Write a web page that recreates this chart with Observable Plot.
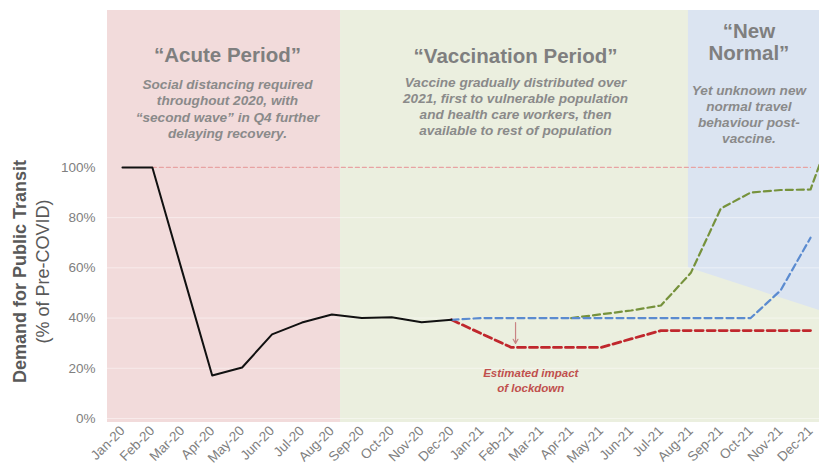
<!DOCTYPE html>
<html><head><meta charset="utf-8">
<script src="https://cdn.jsdelivr.net/npm/d3@7"></script>
<script src="https://cdn.jsdelivr.net/npm/@observablehq/plot@0.6"></script>
<style>body{margin:0;background:#fff;overflow:hidden}</style>
</head><body><div id="chart"></div>
<script>
// x tick labels (month index 0..23)
const months = ["Jan-20","Feb-20","Mar-20","Apr-20","May-20","Jun-20","Jul-20","Aug-20","Sep-20","Oct-20","Nov-20","Dec-20",
                "Jan-21","Feb-21","Mar-21","Apr-21","May-21","Jun-21","Jul-21","Aug-21","Sep-21","Oct-21","Nov-21","Dec-21"];
const yTicks = [0, 20, 40, 60, 80, 100];

// Observed demand, Jan-20 .. Dec-20 (% of pre-COVID)
const actual = [100, 100, 58.5, 17.1, 20.3, 33.5, 38.2, 41.4, 40.0, 40.3, 38.3, 39.3];
// Scenario series
const baselineMonths = ["Dec-20","Jan-21","Feb-21","Mar-21","Apr-21","May-21","Jun-21","Jul-21","Aug-21","Sep-21","Oct-21","Nov-21","Dec-21"];
const baselineValues = [39.3, 40, 40, 40, 40, 40, 40, 40, 40, 40, 40, 51, 72];
const lockdownMonths = ["Dec-20","Jan-21","Feb-21","Mar-21","Apr-21","May-21","Jun-21","Jul-21","Aug-21","Sep-21","Oct-21","Nov-21","Dec-21"];
const lockdownValues = [39.3, 33.8, 28.3, 28.3, 28.3, 28.3, 31.7, 35, 35, 35, 35, 35, 35];
const vaccineMonths = ["Apr-21","May-21","Jun-21","Jul-21","Aug-21","Sep-21","Oct-21","Nov-21","Dec-21","Jan-22"];
const vaccineValues = [40, 41.5, 43, 45, 58, 83.6, 90, 91, 91.2, 124];
// Pre-COVID reference
const refMonths = ["Feb-20","Dec-21"];
const refValues = [100, 100];

// Period shading (month-index bounds)
const periodNames = ["Acute Period","Vaccination Period","New Normal"];
const periodStart = [-0.5, 7.29, 18.92];
const periodEnd = [7.29, 23.3, 23.3];
const periodColors = ["#f2dbdb", "#ebefdf", "#dbe4f1"];
const newNormalLower = [60, 43];

const idx = m => { const i = months.indexOf(m); return i >= 0 ? i : months.length + ["Jan-22"].indexOf(m); };
const series = (ms, vs) => ms.map((m, k) => ({i: idx(m), v: vs[k]}));

const actualData = actual.map((v, i) => ({i, v}));
const baseData = series(baselineMonths, baselineValues);
const lockData = series(lockdownMonths, lockdownValues);
const vaccData = series(vaccineMonths, vaccineValues);
const refData = series(refMonths, refValues);

const yMin = -1.6, yMax = 162.5;
const rects = periodNames.slice(0, 2).map((n, k) => ({x1: periodStart[k], x2: periodEnd[k], c: periodColors[k]}));
const blueArea = [{x: periodStart[2], lo: newNormalLower[0]}, {x: periodEnd[2], lo: newNormalLower[1]}];

const grey = "#7f7f7f";
const subFont = {fontSize: 13.6, fontStyle: "italic", fontWeight: "bold", fill: "#8a8a8a", lineHeight: 1.2, lineAnchor: "middle", textAnchor: "middle"};
const titleFont = {fontSize: 20.5, fontWeight: "bold", fill: grey, lineAnchor: "middle", textAnchor: "middle"};

const chart = Plot.plot({
  width: 819, height: 470,
  marginLeft: 107, marginRight: 0, marginTop: 10, marginBottom: 48,
  style: {fontFamily: "'Liberation Sans', Arial, sans-serif", background: "#fff", overflow: "visible"},
  x: {type: "linear", domain: [-0.5, 23.3]},
  y: {domain: [yMin, yMax]},
  marks: [
    Plot.rect(rects, {x1: "x1", x2: "x2", y1: yMin, y2: yMax, fill: "c"}),
    Plot.areaY(blueArea, {x: "x", y1: "lo", y2: yMax, fill: periodColors[2], curve: "linear"}),
    Plot.ruleY(yTicks.slice(0, 5), {stroke: "#ffffff", strokeOpacity: 0.45, strokeWidth: 1}),
    Plot.line(refData, {x: "i", y: "v", stroke: "#e8a3a3", strokeWidth: 1.2, strokeDasharray: "4,3"}),
    Plot.line(lockData, {x: "i", y: "v", stroke: "#c0272d", strokeWidth: 2.8, strokeDasharray: "8,4"}),
    Plot.line(vaccData, {x: "i", y: "v", stroke: "#76923c", strokeWidth: 2.2, strokeDasharray: "7,4", clip: true}),
    Plot.line(baseData, {x: "i", y: "v", stroke: "#5b8bd0", strokeWidth: 2.2, strokeDasharray: "7,4"}),
    Plot.line(actualData, {x: "i", y: "v", stroke: "#111", strokeWidth: 2}),
    Plot.arrow([0], {x1: () => 13.14, y1: () => 38.2, x2: () => 13.14, y2: () => 29.9, stroke: "#c98484", strokeWidth: 1.2, headLength: 6}),
    Plot.axisY({ticks: yTicks, tickFormat: d => d + "%", tickSize: 0, tickPadding: 12, fontSize: 13.5, fill: "#808080", label: null}),
    Plot.axisX({ticks: d3.range(24), tickFormat: i => months[i], tickRotate: -45, tickSize: 0, tickPadding: 6, fontSize: 13.5, fill: "#808080", label: null}),
    // period titles
    Plot.text(["“Acute Period”"], {x: () => 3.51, y: () => 144.6, text: d => d, ...titleFont}),
    Plot.text(["Social distancing required\nthroughout 2020, with\n“second wave” in Q4 further\ndelaying recovery."], {x: () => 3.51, y: () => 123.5, text: d => d, ...subFont}),
    Plot.text(["“Vaccination Period”"], {x: () => 13.14, y: () => 144.2, text: d => d, ...titleFont}),
    Plot.text(["Vaccine gradually distributed over\n2021, first to vulnerable population\nand health care workers, then\navailable to rest of population"], {x: () => 13.14, y: () => 124.5, text: d => d, ...subFont, lineHeight: 1.16}),
    Plot.text(["“New\nNormal”"], {x: () => 20.94, y: () => 149.8, text: d => d, ...titleFont, lineHeight: 1.07}),
    Plot.text(["Yet unknown new\nnormal travel\nbehaviour post-\nvaccine."], {x: () => 20.94, y: () => 121.3, text: d => d, ...subFont, lineHeight: 1.16}),
    Plot.text(["Estimated impact\nof lockdown"], {x: () => 13.65, y: () => 15.3, text: d => d, fontSize: 11.5, fontStyle: "italic", fontWeight: "bold", fill: "#c0504d", lineHeight: 1.3, lineAnchor: "middle"}),
    // y-axis title
    Plot.text(["Demand for Public Transit"], {frameAnchor: "left", dx: -87, dy: 55, rotate: -90, text: d => d, fontSize: 18, fontWeight: "bold", fill: "#595959", textAnchor: "middle"}),
    Plot.text(["(% of Pre-COVID)"], {frameAnchor: "left", dx: -64, dy: 55, rotate: -90, text: d => d, fontSize: 18, fill: "#595959", textAnchor: "middle"})
  ]
});
document.getElementById("chart").appendChild(chart);
</script>
</body></html>
